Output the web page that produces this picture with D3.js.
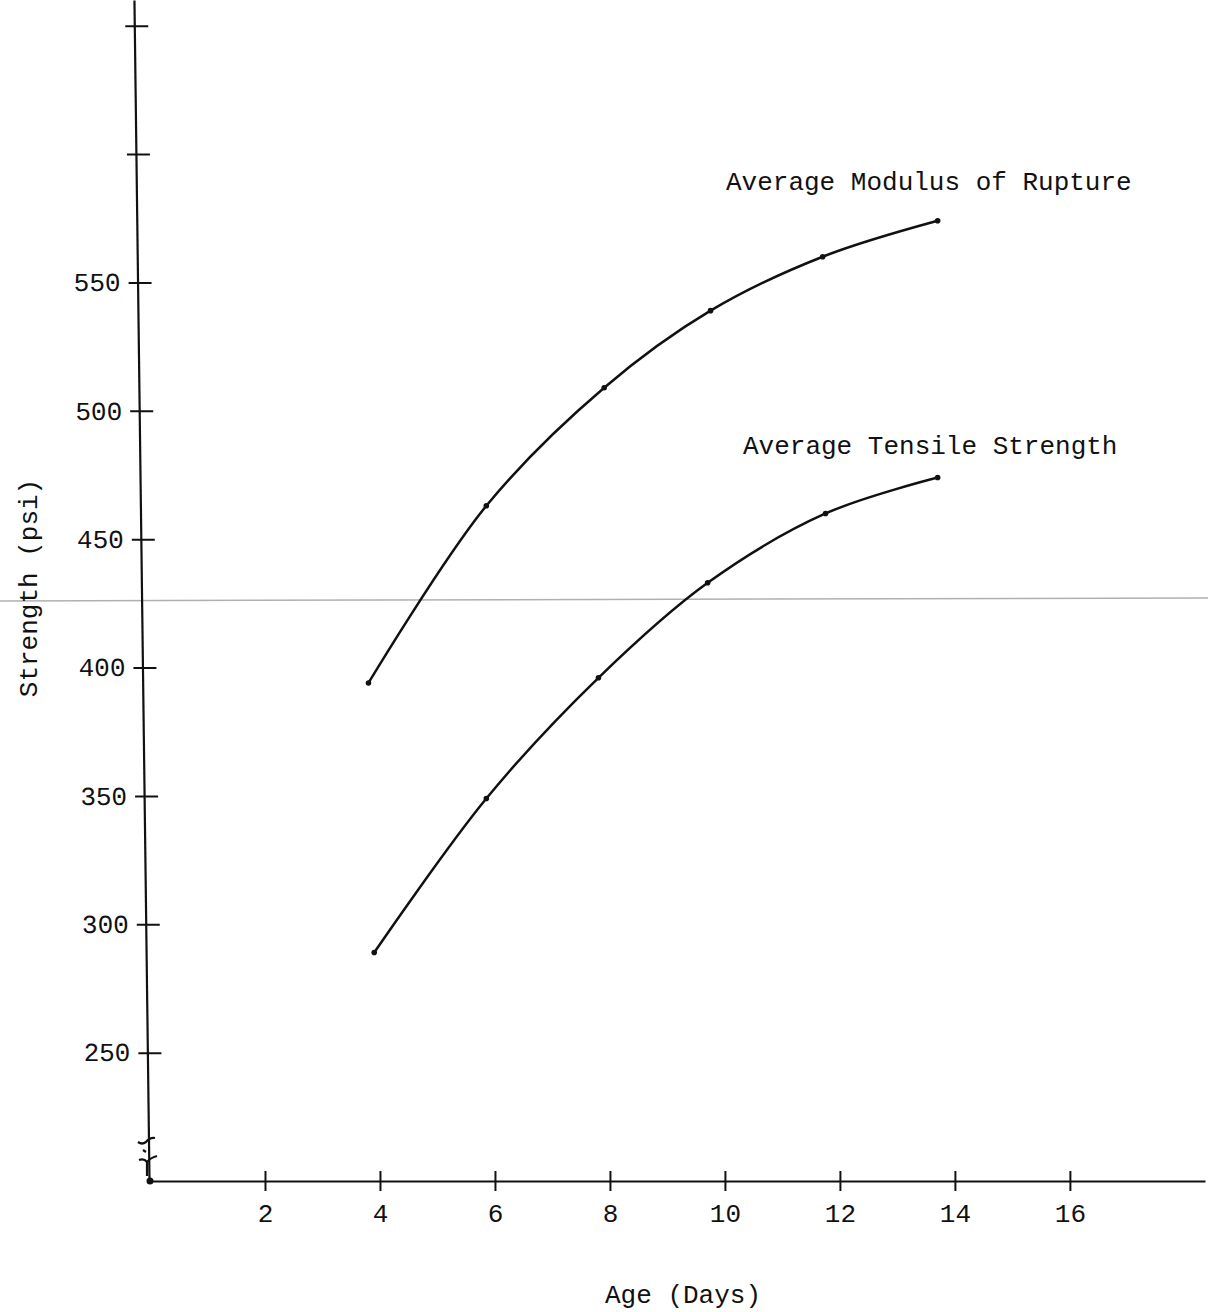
<!DOCTYPE html>
<html>
<head>
<meta charset="utf-8">
<script src="https://cdn.jsdelivr.net/npm/d3@7"></script>
<style>
	body { margin: 0; background: #fff; }
	svg { display: block; }
	text { font-family: "Liberation Mono", "Courier New", monospace; fill: #111; }
</style>
</head>
<body>
<div id="chart"></div>
<script>

// data
var ageDays       = [3.8, 5.85, 7.9, 9.75, 11.7, 13.7];
var ageDaysTensile = [3.9, 5.85, 7.8, 9.7, 11.75, 13.7];
var modulusRupture = [394, 463, 509, 539, 560, 574];
var tensileStrength = [289, 349, 396, 433, 460, 474];
var xTicks = [2, 4, 6, 8, 10, 12, 14, 16];
var yTicks = [250, 300, 350, 400, 450, 500, 550, 600, 650];
var yLabelMax = 550;
var seriesNames = ["Average Modulus of Rupture", "Average Tensile Strength"];


var width = 1208, height = 1312;

var svg = d3.select("#chart").append("svg")
	.attr("width", width)
	.attr("height", height);

svg.append("rect").attr("width", width).attr("height", height).attr("fill", "#fff");

var x = d3.scaleLinear().domain([0, 18.35]).range([150, 1205]);
var y = d3.scaleLinear().domain([200, 660]).range([1181, 0]);

// faint fold line from the scan
svg.append("line")
	.attr("x1", 0).attr("x2", width)
	.attr("y1", 601).attr("y2", 598)
	.attr("stroke", "#b0b0b0")
	.attr("stroke-width", 1.5);


//*******************************************************************************************
//		AXES
//*******************************************************************************************

var xAxis = d3.axisBottom(x)
	.tickValues(xTicks)
	.tickFormat(d3.format("d"))
	.tickSizeOuter(0);

var gx = svg.append("g")
	.attr("transform", "translate(0," + y(200) + ")")
	.call(xAxis);
gx.select(".domain").attr("stroke", "#111").attr("stroke-width", 2);
gx.selectAll(".tick line").attr("y1", -10).attr("y2", 10).attr("stroke", "#111").attr("stroke-width", 2);
gx.selectAll(".tick text")
	.attr("y", 32).attr("dy", "0.35em")
	.attr("font-size", 26).attr("fill", "#111");

// the hand drawn y axis leans a little to the left
var yAxis = d3.axisLeft(y)
	.tickValues(yTicks)
	.tickFormat(function(d) { return d <= yLabelMax ? d : ""; })
	.tickSizeOuter(0);

var gy = svg.append("g")
	.attr("transform", "translate(149," + y(200) + ") skewX(0.73) translate(0," + (-y(200)) + ")")
	.call(yAxis);
gy.select(".domain").attr("stroke", "#111").attr("stroke-width", 2.2);
gy.selectAll(".tick line").attr("x1", -9).attr("x2", 14).attr("stroke", "#111").attr("stroke-width", 2);
gy.selectAll(".tick text")
	.attr("x", -17)
	.attr("font-size", 26).attr("fill", "#111");

// origin dot + axis break marks
svg.append("circle").attr("cx", x(0)).attr("cy", y(200)).attr("r", 3.5).attr("fill", "#111");
svg.append("path")
	.attr("d", "M138,1142 q4,3 8,0 q4,-5 9,-4 M143,1150 l3,2 M139,1160 q5,-2 8,2 q3,-4 10,-6 M147,1162 l0,14")
	.attr("fill", "none").attr("stroke", "#111").attr("stroke-width", 2.2);

svg.append("text")
	.attr("x", 683).attr("y", 1303)
	.attr("text-anchor", "middle")
	.attr("font-size", 26)
	.text("Age (Days)");

svg.append("text")
	.attr("transform", "translate(37,588) rotate(-90)")
	.attr("text-anchor", "middle")
	.attr("font-size", 26)
	.text("Strength (psi)");


//*******************************************************************************************
//		CURVES
//*******************************************************************************************

var rupture = ageDays.map(function(d, i) { return [d, modulusRupture[i]]; });
var tensile = ageDaysTensile.map(function(d, i) { return [d, tensileStrength[i]]; });

var line = d3.line()
	.x(function(d) { return x(d[0]); })
	.y(function(d) { return y(d[1]); })
	.curve(d3.curveCatmullRom.alpha(0.5));

[rupture, tensile].forEach(function(series) {
	svg.append("path")
		.datum(series)
		.attr("d", line)
		.attr("fill", "none")
		.attr("stroke", "#111")
		.attr("stroke-width", 2.5);
	svg.selectAll(null)
		.data(series)
		.enter()
		.append("circle")
		.attr("cx", function(d) { return x(d[0]); })
		.attr("cy", function(d) { return y(d[1]); })
		.attr("r", 2.8)
		.attr("fill", "#111");
});

svg.append("text")
	.attr("x", 726).attr("y", 190)
	.attr("font-size", 26)
	.text(seriesNames[0]);

svg.append("text")
	.attr("x", 743).attr("y", 454)
	.attr("font-size", 26)
	.text(seriesNames[1]);

</script>
</body>
</html>
